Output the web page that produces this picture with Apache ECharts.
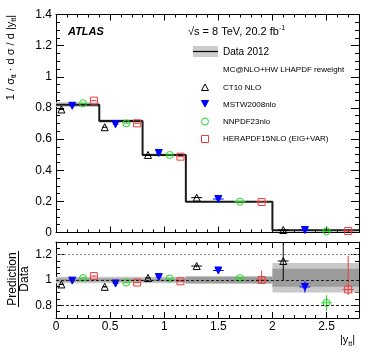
<!DOCTYPE html>
<html>
<head>
<meta charset="utf-8">
<title>ttbar rapidity</title>
<script src="https://cdn.jsdelivr.net/npm/echarts@6/dist/echarts.min.js"></script>
<style>
html, body { margin: 0; padding: 0; background: #fff; }
#main { width: 374px; height: 360px; }
</style>
</head>
<body>
<div id="main"></div>
<script>
// ---- data ----
var binEdges = [0, 0.4, 0.8, 1.2, 2.0, 2.8];
var dataVal  = [0.821, 0.716, 0.498, 0.198, 0.014];
var dataErr  = [0.015, 0.012, 0.009, 0.005, 0.002];

// ratio panel: total (light) and inner (dark) uncertainty bands
var totLo  = [0.975, 0.975, 0.975, 0.970, 0.902];
var totHi  = [1.025, 1.025, 1.025, 1.030, 1.135];
var statLo = [0.988, 0.988, 0.988, 0.975, 0.946];
var statHi = [1.012, 1.012, 1.012, 1.025, 1.089];

// point positions inside each bin
var xCT10  = [0.05, 0.45, 0.85, 1.3, 2.1];
var xMSTW  = [0.15, 0.55, 0.95, 1.5, 2.3];
var xNNPDF = [0.25, 0.65, 1.05, 1.7, 2.5];
var xHERA  = [0.35, 0.75, 1.15, 1.9, 2.7];
var xErr   = [0.025, 0.025, 0.025, 0.05, 0.05];

// upper panel predictions
var ct10Top  = [0.790, 0.676, 0.498, 0.224, 0.016];
var mstwTop  = [0.814, 0.695, 0.511, 0.215, 0.016];
var nnpdfTop = [0.830, 0.701, 0.498, 0.198, 0.008];
var heraTop  = [0.847, 0.701, 0.487, 0.196, 0.010];

// lower panel prediction / data
var ct10Ratio  = [0.965, 0.946, 1.016, 1.110, 1.150];
var mstwRatio  = [0.995, 0.972, 1.023, 1.075, 0.945];
var nnpdfRatio = [1.016, 0.980, 1.011, 1.015, 0.820];
var heraRatio  = [1.031, 0.980, 0.990, 1.000, 0.925];

// ratio error bars (down / up)
var ct10ErrLo  = [0.005, 0.005, 0.005, 0.010, 0.150];
var ct10ErrHi  = [0.005, 0.005, 0.005, 0.010, 0.300];
var mstwErrLo  = [0.005, 0.005, 0.005, 0.010, 0.045];
var mstwErrHi  = [0.005, 0.005, 0.005, 0.010, 0.045];
var nnpdfErrLo = [0.005, 0.005, 0.005, 0.010, 0.065];
var nnpdfErrHi = [0.005, 0.005, 0.005, 0.010, 0.060];
var heraErrLo  = [0.005, 0.005, 0.005, 0.025, 0.045];
var heraErrHi  = [0.005, 0.005, 0.005, 0.075, 0.265];

var xMajor = [0, 0.5, 1, 1.5, 2, 2.5];
var ratioMajor = [0.8, 1, 1.2];
var ratioLines = [0.8, 1.0, 1.2];

var FONT = 'Liberation Sans, Arial, Helvetica, sans-serif';
var C_CT10 = '#000000', C_MSTW = '#0000ff', C_NNPDF = '#22dd22', C_HERA = '#f03c3c';

// ---- helpers ----
var black = { color: '#000', width: 1 };

function xAxes(grid, labels) {
  var list = [];
  ['bottom', 'top'].forEach(function (pos) {
    list.push({ type: 'value', gridIndex: grid, position: pos, min: 0, max: 2.8, interval: 0.1,
      axisLine: { show: true, onZero: false, lineStyle: black },
      axisTick: { show: true, inside: true, length: 3, lineStyle: black },
      axisLabel: { show: false }, splitLine: { show: false } });
    list.push({ type: 'value', gridIndex: grid, position: pos, min: 0, max: 2.8,
      axisLine: { show: false, onZero: false },
      axisTick: { show: true, inside: true, length: 6, customValues: xMajor, lineStyle: black },
      axisLabel: (labels && pos === 'bottom') ? { show: true, customValues: xMajor, fontSize: 12, fontFamily: FONT, color: '#000', margin: 3 } : { show: false },
      splitLine: { show: false } });
  });
  return list;
}

function yAxes(grid, min, max, minorStep, major) {
  var list = [];
  ['left', 'right'].forEach(function (pos) {
    list.push({ type: 'value', gridIndex: grid, position: pos, min: min, max: max, interval: minorStep,
      axisLine: { show: true, onZero: false, lineStyle: black },
      axisTick: { show: true, inside: true, length: 4, lineStyle: black },
      axisLabel: { show: false }, splitLine: { show: false } });
    list.push({ type: 'value', gridIndex: grid, position: pos, min: min, max: max,
      axisLine: { show: false, onZero: false },
      axisTick: { show: true, inside: true, length: 8, customValues: major, lineStyle: black },
      axisLabel: pos === 'left' ? { show: true, customValues: major, fontSize: 12, fontFamily: FONT, color: '#000', margin: 4 } : { show: false },
      splitLine: { show: false } });
  });
  return list;
}

function bandItem(params, api) {
  var p0 = api.coord([api.value(0), api.value(3)]);
  var p1 = api.coord([api.value(1), api.value(2)]);
  return { type: 'rect', shape: { x: p0[0], y: p0[1], width: p1[0] - p0[0], height: p1[1] - p0[1] },
    style: { fill: api.visual('color') } };
}

function errItem(params, api) {
  var x = api.value(0), y = api.value(1), dx = api.value(2), lo = api.value(3), hi = api.value(4);
  var c = api.coord([x, y]);
  var l = api.coord([x - dx, y]), r = api.coord([x + dx, y]);
  var b = api.coord([x, y - lo]), t = api.coord([x, y + hi]);
  var st = { stroke: api.visual('color'), lineWidth: 1 };
  return { type: 'group', children: [
    { type: 'line', shape: { x1: l[0], y1: c[1], x2: r[0], y2: c[1] }, style: st },
    { type: 'line', shape: { x1: c[0], y1: t[1], x2: c[0], y2: b[1] }, style: st }
  ] };
}

function pts(xs, ys) { return xs.map(function (x, i) { return [x, ys[i]]; }); }
function errPts(xs, ys, lo, hi) {
  return xs.map(function (x, i) { return [x, ys[i], xErr[i], lo ? lo[i] : 0, hi ? hi[i] : 0]; });
}
function bands(lo, hi) {
  return lo.map(function (v, i) { return [binEdges[i], binEdges[i + 1], v, hi[i]]; });
}

var models = [
  { name: 'CT10 NLO', x: xCT10, top: ct10Top, ratio: ct10Ratio, lo: ct10ErrLo, hi: ct10ErrHi, color: C_CT10,
    symbol: 'triangle', rot: 0, fill: 'rgba(0,0,0,0)' },
  { name: 'MSTW2008nlo', x: xMSTW, top: mstwTop, ratio: mstwRatio, lo: mstwErrLo, hi: mstwErrHi, color: C_MSTW,
    symbol: 'triangle', rot: 180, fill: C_MSTW },
  { name: 'NNPDF23nlo', x: xNNPDF, top: nnpdfTop, ratio: nnpdfRatio, lo: nnpdfErrLo, hi: nnpdfErrHi, color: C_NNPDF,
    symbol: 'circle', rot: 0, fill: 'rgba(0,0,0,0)' },
  { name: 'HERAPDF15NLO (EIG+VAR)', x: xHERA, top: heraTop, ratio: heraRatio, lo: heraErrLo, hi: heraErrHi, color: C_HERA,
    symbol: 'rect', rot: 0, fill: 'rgba(0,0,0,0)' }
];

// step line through bin contents
var stepData = binEdges.map(function (e, i) { return [e, dataVal[Math.min(i, dataVal.length - 1)]]; });
var upperBand = dataVal.map(function (v, i) { return [binEdges[i], binEdges[i + 1], v - dataErr[i], v + dataErr[i]]; });

var series = [
  { type: 'custom', xAxisIndex: 0, yAxisIndex: 0, renderItem: bandItem, data: upperBand,
    itemStyle: { color: '#cccccc' }, encode: { x: [0, 1], y: [2, 3] }, clip: true, silent: true, z: 1 },
  { type: 'line', xAxisIndex: 0, yAxisIndex: 0, data: stepData, step: 'end', showSymbol: false,
    lineStyle: { color: '#1a1a1a', width: 2 }, silent: true, z: 2 },
  { type: 'custom', xAxisIndex: 4, yAxisIndex: 4, renderItem: bandItem, data: bands(totLo, totHi),
    itemStyle: { color: '#c8c8c8' }, encode: { x: [0, 1], y: [2, 3] }, clip: true, silent: true, z: 1 },
  { type: 'custom', xAxisIndex: 4, yAxisIndex: 4, renderItem: bandItem, data: bands(statLo, statHi),
    itemStyle: { color: '#9c9c9c' }, encode: { x: [0, 1], y: [2, 3] }, clip: true, silent: true, z: 1,
    markLine: { silent: true, symbol: 'none', label: { show: false },
      data: [
        { yAxis: ratioLines[0], lineStyle: { color: '#222', type: [3, 2], width: 1 } },
        { yAxis: ratioLines[1], lineStyle: { color: '#222', type: [3, 2], width: 1 } },
        { yAxis: ratioLines[2], lineStyle: { color: '#888', type: [2, 2], width: 1 } }
      ] } }
];

models.forEach(function (m) {
  series.push({ type: 'custom', xAxisIndex: 0, yAxisIndex: 0, renderItem: errItem, data: errPts(m.x, m.top),
    itemStyle: { color: m.color }, encode: { x: 0, y: 1 }, clip: true, silent: true, z: 3 });
  series.push({ type: 'scatter', name: m.name, xAxisIndex: 0, yAxisIndex: 0, data: pts(m.x, m.top),
    symbol: m.symbol, symbolSize: 7, symbolRotate: m.rot,
    itemStyle: { color: m.fill, borderColor: m.color, borderWidth: 1, opacity: 1 }, z: 4, silent: true });
  series.push({ type: 'custom', xAxisIndex: 4, yAxisIndex: 4, renderItem: errItem, data: errPts(m.x, m.ratio, m.lo, m.hi),
    itemStyle: { color: m.color }, encode: { x: 0, y: 1 }, clip: true, silent: true, z: 3 });
  series.push({ type: 'scatter', name: m.name, xAxisIndex: 4, yAxisIndex: 4, data: pts(m.x, m.ratio),
    symbol: m.symbol, symbolSize: 7, symbolRotate: m.rot,
    itemStyle: { color: m.fill, borderColor: m.color, borderWidth: 1, opacity: 1 }, z: 4, silent: true });
});

// legend drawn by hand, ROOT style
function tx(x, y, text, size, extra) {
  var st = { text: text, x: 0, y: 0, fill: '#000', fontSize: size, fontFamily: FONT,
    align: 'left', textAlign: 'left', verticalAlign: 'middle', textVerticalAlign: 'middle' };
  for (var k in extra) st[k] = extra[k];
  return { type: 'text', x: x, y: y, style: st, silent: true, z: 10 };
}

var graphics = [
  tx(68, 32, 'ATLAS', 11, { fontWeight: 'bold', fontStyle: 'italic' }),
  tx(188, 32, '√s = 8 TeV, 20.2 fb{sup|-1}', 11, { rich: { sup: { fontSize: 7, fontFamily: FONT, padding: [0, 0, 7, 0] } } }),
  { type: 'rect', shape: { x: 193, y: 46, width: 25, height: 11 }, style: { fill: '#cccccc' }, silent: true, z: 10 },
  { type: 'line', shape: { x1: 193, y1: 51.5, x2: 218, y2: 51.5 }, style: { stroke: '#000', lineWidth: 1.2 }, silent: true, z: 10 },
  tx(223, 52, 'Data 2012', 10),
  tx(223, 70, 'MC@NLO+HW LHAPDF reweight', 8),
  { type: 'polygon', shape: { points: [[205, 84], [208.5, 90.5], [201.5, 90.5]] }, style: { fill: 'none', stroke: C_CT10, lineWidth: 1 }, silent: true, z: 10 },
  { type: 'polygon', shape: { points: [[201.5, 100.5], [208.5, 100.5], [205, 107]] }, style: { fill: C_MSTW, stroke: C_MSTW }, silent: true, z: 10 },
  { type: 'circle', shape: { cx: 205, cy: 121.5, r: 3.5 }, style: { fill: 'none', stroke: C_NNPDF, lineWidth: 1 }, silent: true, z: 10 },
  { type: 'rect', shape: { x: 201.5, y: 135.5, width: 7, height: 7 }, style: { fill: 'none', stroke: C_HERA, lineWidth: 1 }, silent: true, z: 10 }
];
models.forEach(function (m, i) {
  graphics.push(tx(223, 87.5 + i * 17.2, m.name, 8));
});

// axis titles
graphics.push({ type: 'text', x: 11, y: 15, rotation: Math.PI / 2, silent: true, z: 10,
  style: { text: '1 / σ{s|tt} · d σ / d |y{s|tt}|', x: 0, y: 0, fill: '#000', fontSize: 11, fontFamily: FONT,
    align: 'right', textAlign: 'right', verticalAlign: 'middle', textVerticalAlign: 'middle',
    rich: { s: { fontSize: 7, fontFamily: FONT, padding: [7, 0, 0, 0] } } } });
graphics.push({ type: 'text', x: 12.5, y: 279, rotation: Math.PI / 2, silent: true, z: 10,
  style: { text: 'Prediction', x: 0, y: 0, fill: '#000', fontSize: 12, fontFamily: FONT,
    align: 'center', textAlign: 'center', verticalAlign: 'middle', textVerticalAlign: 'middle' } });
graphics.push({ type: 'line', shape: { x1: 18.5, y1: 251, x2: 18.5, y2: 307 }, style: { stroke: '#000', lineWidth: 1 }, silent: true, z: 10 });
graphics.push({ type: 'text', x: 24.5, y: 279, rotation: Math.PI / 2, silent: true, z: 10,
  style: { text: 'Data', x: 0, y: 0, fill: '#000', fontSize: 12, fontFamily: FONT,
    align: 'center', textAlign: 'center', verticalAlign: 'middle', textVerticalAlign: 'middle' } });
graphics.push(tx(355, 340, '|y{s|tt}|', 11, { align: 'right', textAlign: 'right',
  rich: { s: { fontSize: 7, fontFamily: FONT, padding: [8, 0, 0, 0] } } }));

var chart = echarts.init(document.getElementById('main'), null, { renderer: 'canvas' });
chart.setOption({
  animation: false,
  backgroundColor: '#fff',
  grid: [
    { left: 56, top: 14.5, width: 303, height: 218, containLabel: false },
    { left: 56, top: 242, width: 303, height: 76, containLabel: false }
  ],
  xAxis: xAxes(0, false).concat(xAxes(1, true)),
  yAxis: yAxes(0, 0, 1.4, 0.05, [0, 0.2, 0.4, 0.6, 0.8, 1, 1.2, 1.4]).concat(yAxes(1, 0.7, 1.3, 0.05, ratioMajor)),
  series: series,
  graphic: graphics
});
</script>
</body>
</html>
